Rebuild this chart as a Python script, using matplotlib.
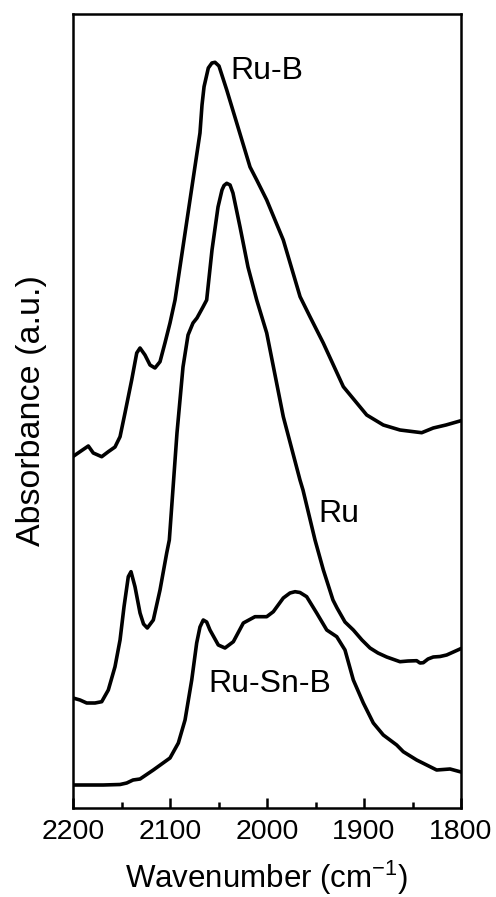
import matplotlib
matplotlib.use('Agg')
import matplotlib.pyplot as plt

plt.rcParams['font.family'] = ['Liberation Sans', 'DejaVu Sans']
plt.rcParams['mathtext.fontset'] = 'custom'
plt.rcParams['mathtext.rm'] = 'Liberation Sans'
plt.rcParams['mathtext.it'] = 'Liberation Sans:italic'

rub_wn = [2200.0, 2192.8, 2184.2, 2179.1, 2170.4, 2163.6, 2156.7, 2151.5, 2146.4, 2139.5,
          2134.3, 2130.9, 2125.8, 2120.6, 2115.5, 2110.3, 2105.2, 2100.0, 2094.8, 2079.4,
          2069.1, 2067.0, 2064.9, 2060.5, 2056.8, 2053.6, 2049.5, 2041.5, 2031.2, 2017.5,
          2010.6, 2000.3, 1983.2, 1965.9, 1955.7, 1942.0, 1921.3, 1897.2, 1880.1, 1862.9,
          1840.5, 1828.6, 1815.5, 1800.0]
rub_abs = [3.515, 3.563, 3.62, 3.55, 3.513, 3.563, 3.61, 3.713, 3.95, 4.28,
           4.55, 4.60, 4.53, 4.43, 4.40, 4.463, 4.65, 4.85, 5.08, 6.08,
           6.75, 7.03, 7.213, 7.40, 7.45, 7.457, 7.42, 7.18, 6.85, 6.41,
           6.28, 6.08, 5.68, 5.113, 4.913, 4.65, 4.213, 3.93, 3.83, 3.78,
           3.753, 3.80, 3.83, 3.873]

ru_wn = [2200.0, 2192.8, 2185.9, 2177.3, 2170.4, 2163.6, 2156.7, 2151.5, 2147.4, 2143.0,
         2140.2, 2136.1, 2130.9, 2127.3, 2123.4, 2117.2, 2110.3, 2103.4, 2100.7, 2092.8,
         2086.6, 2081.4, 2076.3, 2072.2, 2066.0, 2062.2, 2056.7, 2050.5, 2046.4, 2044.3,
         2041.5, 2038.1, 2035.1, 2027.8, 2019.6, 2010.6, 2000.3, 1983.2, 1966.0, 1962.9,
         1950.5, 1941.9, 1932.0, 1927.8, 1919.6, 1911.0, 1902.1, 1893.8, 1885.6, 1876.6,
         1862.9, 1854.6, 1845.7, 1842.3, 1838.9, 1834.0, 1828.6, 1821.6, 1814.8, 1801.0,
         1800.0]
ru_abs = [1.10, 1.08, 1.05, 1.05, 1.063, 1.18, 1.413, 1.68, 2.013, 2.313,
          2.363, 2.213, 1.95, 1.84, 1.80, 1.88, 2.18, 2.55, 2.68, 3.75,
          4.41, 4.73, 4.85, 4.90, 5.01, 5.08, 5.58, 6.01, 6.18, 6.225,
          6.247, 6.23, 6.15, 5.81, 5.41, 5.08, 4.75, 3.913, 3.28, 3.18,
          2.68, 2.38, 2.08, 2.00, 1.86, 1.78, 1.68, 1.60, 1.55, 1.51,
          1.463, 1.47, 1.473, 1.45, 1.453, 1.49, 1.51, 1.515, 1.53, 1.59,
          1.595]

rusnb_wn = [2200.0, 2168.8, 2151.5, 2144.6, 2138.1, 2130.9, 2117.2, 2100.0, 2091.4, 2084.5,
            2077.6, 2072.5, 2069.1, 2065.7, 2062.2, 2058.8, 2050.2, 2043.3, 2034.7, 2024.4,
            2012.4, 2000.3, 1993.5, 1983.2, 1976.3, 1971.1, 1966.0, 1959.1, 1948.8, 1938.4,
            1928.1, 1919.6, 1911.0, 1900.7, 1890.4, 1880.1, 1866.3, 1859.5, 1845.7, 1835.4,
            1825.1, 1811.3, 1800.0]
rusnb_abs = [0.23, 0.23, 0.235, 0.25, 0.28, 0.29, 0.38, 0.50, 0.65, 0.88,
             1.28, 1.65, 1.81, 1.88, 1.86, 1.78, 1.63, 1.60, 1.663, 1.85,
             1.913, 1.913, 1.963, 2.10, 2.15, 2.163, 2.155, 2.113, 1.95, 1.78,
             1.713, 1.58, 1.28, 1.05, 0.85, 0.73, 0.63, 0.563, 0.48, 0.43,
             0.38, 0.39, 0.36]

fig = plt.figure(figsize=(4.96, 8.97), dpi=100)
ax = fig.add_axes([73 / 496, 1 - 808 / 897, 388 / 496, 794 / 897])

for wn, ab in [(rub_wn, rub_abs), (ru_wn, ru_abs), (rusnb_wn, rusnb_abs)]:
    ax.plot(wn, ab, color='black', lw=2.6, solid_joinstyle='round', solid_capstyle='round')

ax.text(2038.1, 7.37, 'Ru-B', fontsize=23, va='center', ha='left')
ax.text(1947.1, 2.945, 'Ru', fontsize=23, va='center', ha='left')
ax.text(2060.5, 1.24, 'Ru-Sn-B', fontsize=23, va='center', ha='left')

ax.set_xlim(2200, 1800)
ax.set_ylim(0, 7.94)
ax.set_xticks([2200, 2100, 2000, 1900, 1800])
ax.set_xticks([2150, 2050, 1950, 1850], minor=True)
ax.set_yticks([])
ax.tick_params(axis='x', which='major', direction='in', length=7, width=1.8, labelsize=20.5, pad=8)
ax.tick_params(axis='x', which='minor', direction='in', length=4, width=1.8)
for s in ax.spines.values():
    s.set_linewidth(1.8)

ax.set_xlabel(r'Wavenumber (cm$^{-1}$)', fontsize=22.5, labelpad=10)
ax.set_ylabel('Absorbance (a.u.)', fontsize=24.5, labelpad=19)

fig.savefig('out.png', dpi=100)
